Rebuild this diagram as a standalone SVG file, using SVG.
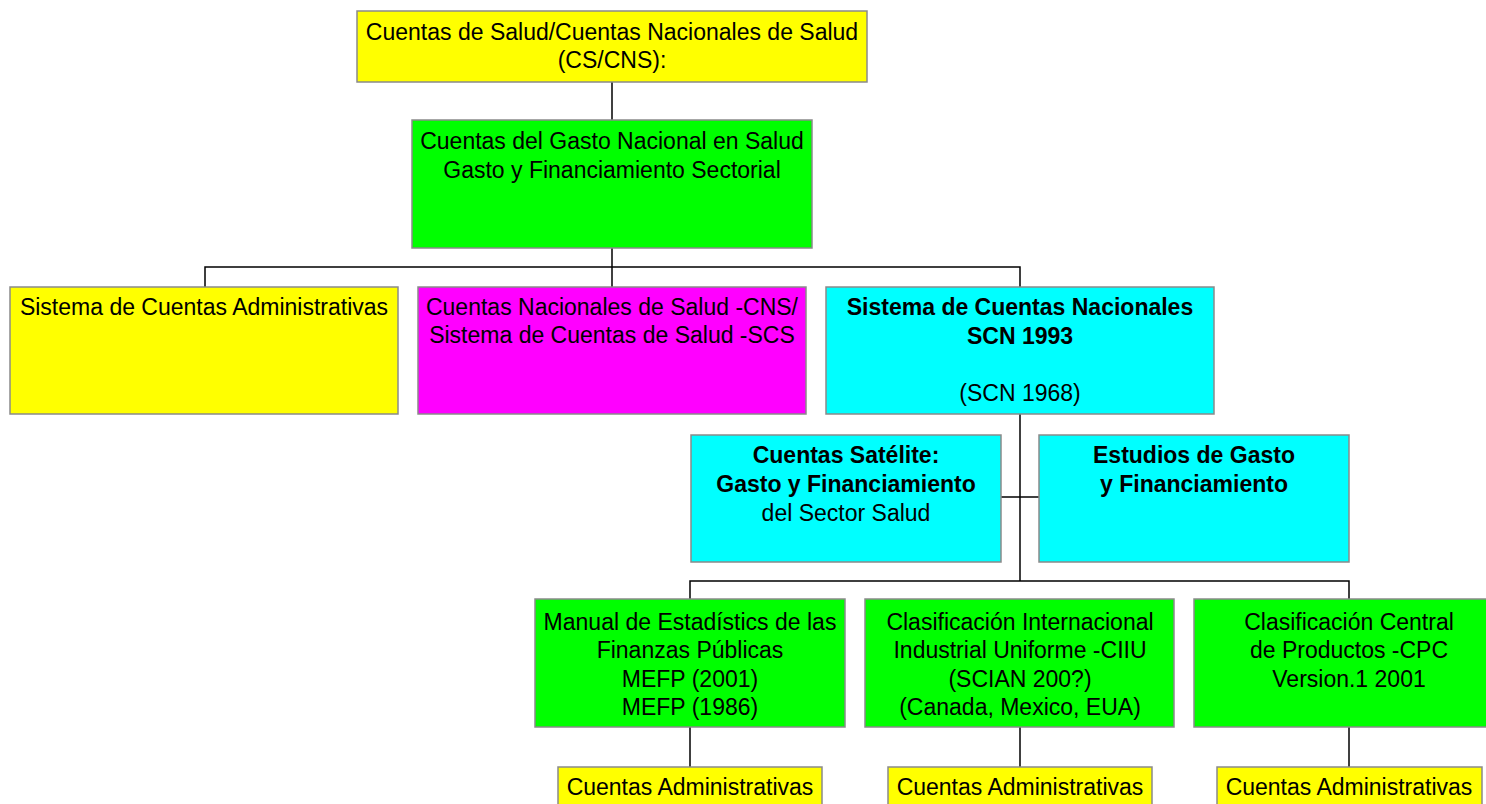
<svg xmlns="http://www.w3.org/2000/svg" width="1486" height="804" viewBox="0 0 1486 804">
<style>
  rect.box { stroke: #8a8a8a; stroke-width: 1.5; }
  .y { fill: #ffff00; }
  .g { fill: #00ff00; }
  .m { fill: #ff00ff; }
  .c { fill: #00ffff; }
  text { font-family: "Liberation Sans", Arial, sans-serif; font-size: 23px; fill: #000; text-anchor: middle; }
  .b { font-weight: bold; }
  #connectors path { stroke: #000; stroke-width: 1.5; fill: none; }
</style>
<rect width="1486" height="804" fill="#ffffff"/>
<g id="connectors">
  <path d="M612,82 V120"/>
  <path d="M612,248 V287"/>
  <path d="M205,287 V267 H1020 V287"/>
  <path d="M1020,414 V581"/>
  <path d="M1001,497 H1039"/>
  <path d="M690,599 V581 H1349 V599"/>
  <path d="M690,727 V767"/>
  <path d="M1020,727 V767"/>
  <path d="M1349,727 V767"/>
</g>
<g id="n-root">
  <rect class="box y" x="357" y="11" width="510" height="71"/>
  <text x="612" y="40">Cuentas de Salud/Cuentas Nacionales de Salud</text>
  <text x="612" y="68">(CS/CNS):</text>
</g>
<g id="n-gasto">
  <rect class="box g" x="412" y="120" width="400" height="128"/>
  <text x="612" y="149">Cuentas del Gasto Nacional en Salud</text>
  <text x="612" y="178">Gasto y Financiamiento Sectorial</text>
</g>
<g id="n-admin">
  <rect class="box y" x="10" y="287" width="388" height="127"/>
  <text x="204" y="315">Sistema de Cuentas Administrativas</text>
</g>
<g id="n-cns">
  <rect class="box m" x="418" y="287" width="388" height="127"/>
  <text x="612" y="315">Cuentas Nacionales de Salud -CNS/</text>
  <text x="612" y="343">Sistema de Cuentas de Salud -SCS</text>
</g>
<g id="n-scn">
  <rect class="box c" x="826" y="287" width="388" height="127"/>
  <text class="b" x="1020" y="315">Sistema de Cuentas Nacionales</text>
  <text class="b" x="1020" y="344">SCN 1993</text>
  <text x="1020" y="401">(SCN 1968)</text>
</g>
<g id="n-satelite">
  <rect class="box c" x="691" y="435" width="310" height="127"/>
  <text class="b" x="846" y="463">Cuentas Satélite:</text>
  <text class="b" x="846" y="492">Gasto y Financiamiento</text>
  <text x="846" y="521">del Sector Salud</text>
</g>
<g id="n-estudios">
  <rect class="box c" x="1039" y="435" width="310" height="127"/>
  <text class="b" x="1194" y="463">Estudios de Gasto</text>
  <text class="b" x="1194" y="492">y Financiamiento</text>
</g>
<g id="n-mefp">
  <rect class="box g" x="535" y="599" width="310" height="128"/>
  <text x="690" y="630">Manual de Estadístics de las</text>
  <text x="690" y="658">Finanzas Públicas</text>
  <text x="690" y="687">MEFP (2001)</text>
  <text x="690" y="715">MEFP (1986)</text>
</g>
<g id="n-ciiu">
  <rect class="box g" x="865" y="599" width="309" height="128"/>
  <text x="1020" y="630">Clasificación Internacional</text>
  <text x="1020" y="658">Industrial Uniforme -CIIU</text>
  <text x="1020" y="687">(SCIAN 200?)</text>
  <text x="1020" y="715">(Canada, Mexico, EUA)</text>
</g>
<g id="n-cpc">
  <rect class="box g" x="1194" y="599" width="310" height="128"/>
  <text x="1349" y="630">Clasificación Central</text>
  <text x="1349" y="658">de Productos -CPC</text>
  <text x="1349" y="687">Version.1 2001</text>
</g>
<g id="n-ca1">
  <rect class="box y" x="558" y="767" width="264" height="45"/>
  <text x="690" y="795">Cuentas Administrativas</text>
</g>
<g id="n-ca2">
  <rect class="box y" x="888" y="767" width="264" height="45"/>
  <text x="1020" y="795">Cuentas Administrativas</text>
</g>
<g id="n-ca3">
  <rect class="box y" x="1217" y="767" width="265" height="45"/>
  <text x="1349" y="795">Cuentas Administrativas</text>
</g>
</svg>
